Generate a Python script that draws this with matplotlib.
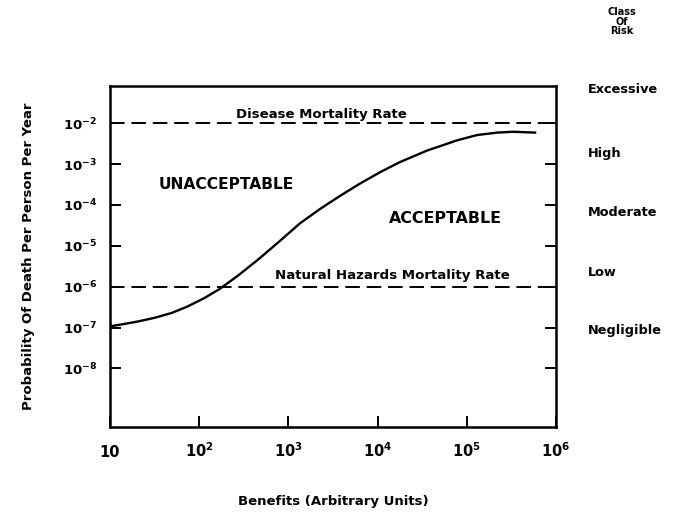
import numpy as np
import matplotlib
matplotlib.use("Agg")
import matplotlib.pyplot as plt
import matplotlib.transforms as mtransforms

plt.rcParams['font.family'] = ['DejaVu Sans']
plt.rcParams['font.weight'] = 'bold'
plt.rcParams['mathtext.default'] = 'regular'

# curva limite de riesgo aceptable
beneficio = [10, 13.65, 20.6, 31.9, 49.5, 74.8, 116.1, 171, 272, 456, 805, 1349, 2259,
             3784, 6310, 10640, 17820, 35810, 77620, 130000, 218300, 329600, 582100]
probabilidad = [1.07e-7, 1.20e-7, 1.41e-7, 1.74e-7, 2.29e-7, 3.31e-7, 5.37e-7, 8.9e-7,
                1.86e-6, 4.57e-6, 1.32e-5, 3.55e-5, 7.94e-5, 1.66e-4, 3.31e-4, 6.31e-4,
                1.12e-3, 2.14e-3, 3.80e-3, 5.13e-3, 5.89e-3, 6.17e-3, 5.89e-3]

tasa_enfermedad = 1e-2
tasa_natural = 1e-6

x_ticks = [10, 1e2, 1e3, 1e4, 1e5, 1e6]
x_labels = ['10', '10$^2$', '10$^3$', '10$^4$', '10$^5$', '10$^6$']
y_ticks = [1e-2, 1e-3, 1e-4, 1e-5, 1e-6, 1e-7, 1e-8]
y_labels = ['10$^{-2}$', '10$^{-3}$', '10$^{-4}$', '10$^{-5}$', '10$^{-6}$', '10$^{-7}$', '10$^{-8}$']

clases = ['Excessive', 'High', 'Moderate', 'Low', 'Negligible']
y_clases = [10**-1.18, 10**-2.75, 10**-4.18, 10**-5.64, 10**-7.06]

fig = plt.figure(figsize=(6.74, 5.15), dpi=100)
ax = fig.add_axes([0.163, 0.171, 0.662, 0.662])

ax.set_xscale('log')
ax.set_yscale('log')
ax.set_xlim(10, 1e6)
ax.set_ylim(10**-9.43, 10**-1.09)

ax.plot(beneficio, probabilidad, color='black', linewidth=1.7)
ax.axhline(tasa_enfermedad, color='black', linewidth=1.4, dashes=(7.5, 3.5))
ax.axhline(tasa_natural, color='black', linewidth=1.4, dashes=(7.5, 3.5))

ax.text(2350, 10**-1.78, 'Disease Mortality Rate', ha='center', va='center', fontsize=9.5)
ax.text(14800, 10**-5.72, 'Natural Hazards Mortality Rate', ha='center', va='center',
        fontsize=9.6)
ax.text(204, 10**-3.5, 'UNACCEPTABLE', ha='center', va='center', fontsize=11.2)
ax.text(57000, 10**-4.33, 'ACCEPTABLE', ha='center', va='center', fontsize=11.4)

ax.set_xticks(x_ticks)
ax.set_xticklabels(x_labels, va='baseline')
ax.set_yticks(y_ticks)
ax.set_yticklabels(y_labels)
ax.minorticks_off()
ax.tick_params(axis='x', direction='in', length=8, width=1.4, pad=22, labelsize=10.5)
ax.tick_params(axis='y', direction='in', length=8, width=1.4, pad=9, labelsize=9.5,
               right=True)
for s in ax.spines.values():
    s.set_linewidth(1.8)

ax.set_xlabel('Benefits (Arbitrary Units)', fontsize=9.5, fontweight='bold', labelpad=25)
ax.set_ylabel('Probability Of Death Per Person Per Year', fontsize=9.5, fontweight='bold',
              labelpad=20)

trans = mtransforms.blended_transform_factory(ax.transAxes, ax.transData)
for nombre, yc in zip(clases, y_clases):
    ax.text(1.072, yc, nombre, transform=trans, ha='left', va='center', fontsize=9.3)
fig.text(0.923, 0.958, 'Class\nOf\nRisk', ha='center', va='center', fontsize=7,
         linespacing=0.95)

fig.savefig('out.png', dpi=100)
